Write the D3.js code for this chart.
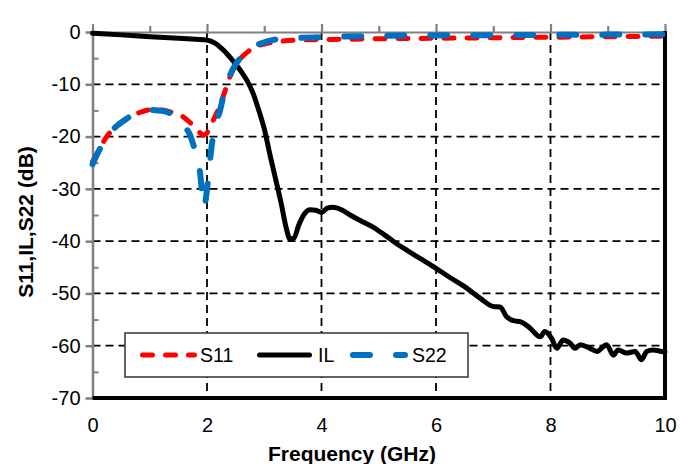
<!DOCTYPE html>
<html>
<head>
<meta charset="utf-8">
<script src="https://cdn.jsdelivr.net/npm/d3@7"></script>
<style>
  body { margin: 0; background: #fff; }
  text { font-family: "Liberation Sans", Arial, sans-serif; }
</style>
</head>
<body>
<div id="chart"></div>
<script>
// S11 (red, dashed)
const freqS11 = [0, 0.1, 0.25, 0.4, 0.55, 0.7, 0.85, 1.0, 1.15, 1.3, 1.45, 1.55, 1.65, 1.75, 1.85, 1.94,
    2.0, 2.08, 2.17, 2.28, 2.4, 2.5, 2.6, 2.7, 2.8, 3.0, 3.2, 3.5, 4.0, 4.3, 5, 6, 7, 8, 9, 10];
const s11 = [-24.8, -22.8, -20, -18.2, -17.0, -16.0, -15.3, -14.9, -14.9, -15.1, -15.6, -16.0, -16.8, -17.8, -19.0, -19.7,
    -19.3, -17.5, -15.5, -12.4, -8.6, -6.3, -4.9, -3.9, -3.1, -2.3, -1.9, -1.6, -1.45, -1.4, -1.3, -1.2, -1.1, -1.0, -0.9, -0.8];

// IL (black, solid)
const freqIL = [0, 0.5, 1.0, 1.5, 1.8, 2.0, 2.05, 2.1, 2.15, 2.2, 2.25, 2.3, 2.35, 2.4, 2.46, 2.6, 2.7, 2.8, 2.9, 3.0, 3.1, 3.2, 3.3, 3.38,
    3.45, 3.52, 3.6, 3.7, 3.8, 3.9, 4.0, 4.1, 4.2, 4.35, 4.5, 4.7, 4.9, 5.1, 5.3, 5.5, 5.75, 6.0, 6.25, 6.5,
    6.77, 7.0, 7.12, 7.23, 7.35, 7.47, 7.64, 7.82, 7.9, 8.02, 8.11, 8.22, 8.34, 8.43, 8.52, 8.69, 8.81, 8.98,
    9.1, 9.18, 9.33, 9.48, 9.59, 9.68, 9.79, 9.94, 10];
const il = [-0.25, -0.55, -0.9, -1.2, -1.4, -1.55, -1.7, -1.9, -2.2, -2.6, -3.1, -3.6, -4.2, -4.8, -5.6, -7.6, -9.3, -11.6, -14.8, -18.5, -23.5, -28.2, -33, -37.3,
    -39.6, -39.4, -37.0, -34.8, -34.0, -34.1, -34.5, -33.7, -33.5, -34.0, -35.0, -36.2, -37.3, -38.8, -40.4, -41.8, -43.5, -45.2, -47.0, -48.7,
    -50.9, -52.5, -52.6, -54.4, -55.2, -55.4, -56.6, -58.3, -57.3, -58.6, -60.5, -58.9, -59.5, -60.5, -59.8, -60.5, -61.1, -59.8,
    -61.8, -60.8, -61.4, -61.1, -62.7, -61.1, -60.8, -61.1, -61.2];

// S22 (blue, long dash)
const freqS22 = [0, 0.1, 0.25, 0.4, 0.55, 0.7, 0.85, 1.0, 1.15, 1.3, 1.4, 1.53, 1.62, 1.7, 1.76, 1.82, 1.88, 1.92,
    1.95, 1.99, 2.03, 2.08, 2.14, 2.23, 2.31, 2.4, 2.5, 2.58, 2.7, 2.8, 3.0, 3.15, 3.5, 4.0, 5, 6, 7, 8, 9, 10];
const s22 = [-25.3, -23.0, -20.0, -18.2, -16.9, -15.9, -15.2, -14.9, -15.0, -15.3, -15.8, -16.6, -18.2, -19.6, -21.5, -23.8, -27.0, -31.5,
    -33.5, -31.0, -27.0, -21.9, -18.1, -14.9, -11.1, -8.3, -6.2, -5.0, -3.6, -2.8, -2.0, -1.5, -1.2, -1.0, -0.75, -0.65, -0.6, -0.55, -0.5, -0.45];

const xTicks = [0, 2, 4, 6, 8, 10];
const yTicks = [0, -10, -20, -30, -40, -50, -60, -70];
const legendLabels = ["S11", "IL", "S22"];

const W = 692, H = 464;
const plotL = 92.5, plotR = 665, plotT = 32, plotB = 398;

const svg = d3.select('#chart').append('svg')
    .attr('width', W)
    .attr('height', H);

const x = d3.scaleLinear().domain([0, 10]).range([plotL, plotR]);
const y = d3.scaleLinear().domain([-70, 0]).range([plotB, plotT]);

// Grid lines
const grid = svg.append('g')
    .attr('stroke', '#000')
    .attr('stroke-width', 1.8)
    .attr('stroke-dasharray', '8,5');
grid.selectAll('line.v')
    .data(xTicks.filter(d => d > 0 && d < 10))
    .enter().append('line')
    .attr('class', 'v')
    .attr('x1', d => x(d)).attr('x2', d => x(d))
    .attr('y1', plotT).attr('y2', plotB);
grid.selectAll('line.h')
    .data(yTicks.filter(d => d < 0 && d > -70))
    .enter().append('line')
    .attr('class', 'h')
    .attr('x1', plotL).attr('x2', plotR)
    .attr('y1', d => y(d)).attr('y2', d => y(d));

// Top axis (gray, ticks up every 1 GHz)
const topAxis = svg.append('g')
    .attr('transform', `translate(0,${plotT})`)
    .call(d3.axisTop(x).tickValues(d3.range(0, 11)).tickSize(8).tickSizeOuter(0).tickFormat(''));
topAxis.selectAll('path, line').attr('stroke', '#808080').attr('stroke-width', 2.2);
topAxis.selectAll('.tick line').attr('y2', d => d % 2 === 0 ? -8 : -6);

// Left axis (gray), plain hyphen for negatives
const leftAxis = svg.append('g')
    .attr('transform', `translate(${plotL},0)`)
    .call(d3.axisLeft(y).tickValues(yTicks).tickSize(7).tickSizeOuter(0).tickPadding(5)
        .tickFormat(d => String(d)));
leftAxis.selectAll('path, line').attr('stroke', '#808080').attr('stroke-width', 2.5);
leftAxis.selectAll('text')
    .attr('font-size', 20)
    .attr('fill', '#000');

const minorAxis = svg.append('g')
    .attr('transform', `translate(${plotL},0)`)
    .call(d3.axisRight(y).tickValues(d3.range(-5, -70, -10)).tickSize(6).tickFormat(''));
minorAxis.select('.domain').remove();
minorAxis.selectAll('line').attr('stroke', '#808080').attr('stroke-width', 2);

// Bottom tick labels
const bottomAxis = svg.append('g')
    .attr('transform', `translate(0,${plotB})`)
    .call(d3.axisBottom(x).tickValues(xTicks).tickSize(0).tickPadding(20));
bottomAxis.select('.domain').remove();
bottomAxis.selectAll('text')
    .attr('font-size', 20)
    .attr('fill', '#000');

// Bottom and right borders (black)
svg.append('line')
    .attr('x1', plotL).attr('x2', plotR + 2)
    .attr('y1', plotB).attr('y2', plotB)
    .attr('stroke', '#000').attr('stroke-width', 4);
svg.append('line')
    .attr('x1', plotR).attr('x2', plotR)
    .attr('y1', plotT - 1).attr('y2', plotB + 2)
    .attr('stroke', '#000').attr('stroke-width', 4);

// Curves
const line = d3.line()
    .x(d => x(d[0]))
    .y(d => y(d[1]))
    .curve(d3.curveMonotoneX);

const series = [
    { name: 'S11', data: d3.zip(freqS11, s11), color: '#ff0000', width: 5, dash: '10,13' },
    { name: 'IL', data: d3.zip(freqIL, il), color: '#000000', width: 5, dash: null },
    { name: 'S22', data: d3.zip(freqS22, s22), color: '#0070c0', width: 6, dash: '17,26' }
];

svg.append('g').selectAll('path')
    .data(series)
    .enter().append('path')
    .attr('d', d => line(d.data))
    .attr('fill', 'none')
    .attr('stroke', d => d.color)
    .attr('stroke-width', d => d.width)
    .attr('stroke-linecap', 'round')
    .attr('stroke-linejoin', 'round')
    .attr('stroke-dasharray', d => d.dash);

// Legend
const legend = svg.append('g');
legend.append('rect')
    .attr('x', 125).attr('y', 333)
    .attr('width', 343).attr('height', 44)
    .attr('fill', '#fff')
    .attr('stroke', '#333')
    .attr('stroke-width', 1.5);

const legendPos = [
    { x1: 142.5, x2: 194.5, tx: 200 },
    { x1: 259.5, x2: 309.5, tx: 318 },
    { x1: 353, x2: 405, tx: 412 }
];
series.forEach((s, i) => {
    const p = legendPos[i];
    legend.append('line')
        .attr('x1', p.x1).attr('x2', p.x2)
        .attr('y1', 355).attr('y2', 355)
        .attr('stroke', s.color)
        .attr('stroke-width', s.width)
        .attr('stroke-linecap', 'round')
        .attr('stroke-dasharray', s.dash);
    legend.append('text')
        .attr('x', p.tx).attr('y', 362)
        .attr('font-size', 19.5)
        .text(legendLabels[i]);
});

// Axis titles
svg.append('text')
    .attr('x', 352).attr('y', 461)
    .attr('text-anchor', 'middle')
    .attr('font-size', 21)
    .attr('font-weight', 'bold')
    .text('Frequency (GHz)');

svg.append('text')
    .attr('transform', 'translate(33,222) rotate(-90)')
    .attr('text-anchor', 'middle')
    .attr('font-size', 21)
    .attr('font-weight', 'bold')
    .text('S11,IL,S22 (dB)');
</script>
</body>
</html>
